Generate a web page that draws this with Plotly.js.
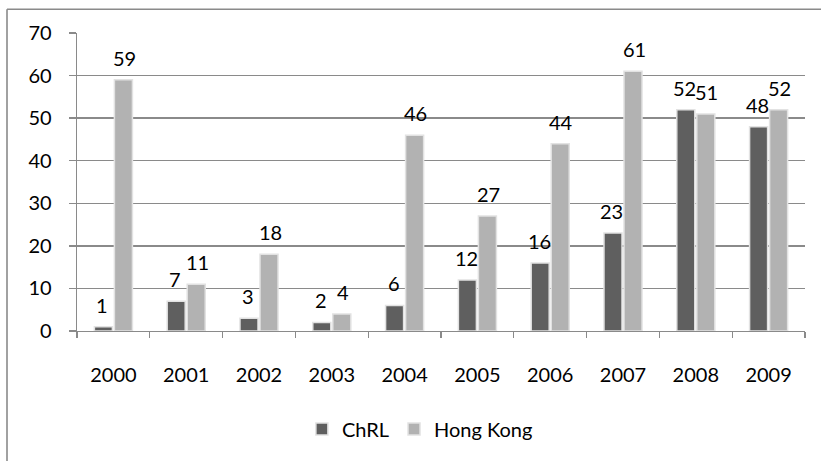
<!DOCTYPE html>
<html>
<head>
<meta charset="utf-8">
<script src="https://cdn.plot.ly/plotly-3.0.1.min.js"></script>
<style>
  html, body { margin: 0; padding: 0; background: #fff; }
  #chart { width: 821px; height: 461px; }
</style>
</head>
<body>
<div id="chart"></div>
<script>
const years = ['2000','2001','2002','2003','2004','2005','2006','2007','2008','2009'];
const chrl = [1, 7, 3, 2, 6, 12, 16, 23, 52, 48];
const hongKong = [59, 11, 18, 4, 46, 27, 44, 61, 51, 52];
const chrlLabels = ['1','7','3','2','6','12','16','23','52','48'];
const hkLabels = ['59','11','18','4','46','27','44','61','51','52'];

const W = 821, H = 461;
const margin = {l: 77, r: 16, t: 33, b: 127};
const bargap = 0.45;
const plotW = W - margin.l - margin.r;
const catW = plotW / years.length;
const slot = catW * (1 - bargap) / 2;
const font = 'Lato, "Open Sans", "DejaVu Sans", sans-serif';
const fs = 20;

const traces = [
  {type: 'bar', name: 'ChRL', x: years, y: chrl,
   marker: {color: '#5f5f5f', line: {color: '#e2e2e2', width: 1.5}}, hoverinfo: 'none'},
  {type: 'bar', name: 'Hong Kong', x: years, y: hongKong,
   marker: {color: '#b2b2b2', line: {color: '#e2e2e2', width: 1.5}}, hoverinfo: 'none'}
];

// category index positions for annotations (numeric-looking category names)
const annotations = [];
years.forEach((yr, i) => {
  annotations.push({x: i, y: chrl[i], text: chrlLabels[i], showarrow: false,
    xshift: -slot / 2 - 1, yshift: 22, yanchor: 'middle', font: {family: font, size: fs, color: '#000'}});
  annotations.push({x: i, y: hongKong[i], text: hkLabels[i], showarrow: false,
    xshift: slot / 2 + 1, yshift: 22, yanchor: 'middle', font: {family: font, size: fs, color: '#000'}});
});

const plotH = H - margin.t - margin.b;
const px2x = p => (p - margin.l) / plotW;
const px2y = p => (H - margin.b - p) / plotH;

const layout = {
  width: W, height: H,
  margin: margin,
  paper_bgcolor: '#fff', plot_bgcolor: '#fff',
  font: {family: font, size: fs, color: '#000'},
  showlegend: true,
  barmode: 'group', bargap: bargap, bargroupgap: 0.1,
  xaxis: {type: 'category', range: [-0.5, years.length - 0.5], showline: true, linecolor: '#8a8a8a', linewidth: 1.3,
    ticks: 'outside', tickson: 'boundaries', ticklen: 6, tickcolor: '#8a8a8a', tickwidth: 1.3,
    tickangle: 0, ticklabelstandoff: 26, showgrid: false, zeroline: false, fixedrange: true},
  yaxis: {range: [0, 70], dtick: 10, tick0: 0, showline: true, linecolor: '#8a8a8a', linewidth: 1.3,
    ticks: 'outside', ticklen: 7, tickcolor: '#8a8a8a', tickwidth: 1.3, ticklabelstandoff: 13,
    showgrid: true, gridcolor: '#8a8a8a', gridwidth: 1.3, zeroline: false, fixedrange: true},
  legend: {orientation: 'h', x: 0.471, xanchor: 'center', y: px2y(433), yanchor: 'middle',
    font: {family: font, size: fs}, itemclick: false},
  annotations: annotations,
  shapes: [
    {type: 'line', xref: 'paper', yref: 'paper', x0: px2x(7), x1: px2x(7), y0: px2y(9), y1: px2y(470),
     line: {color: '#8a8a8a', width: 1.6}},
    {type: 'line', xref: 'paper', yref: 'paper', x0: px2x(7), x1: px2x(830), y0: px2y(9), y1: px2y(9),
     line: {color: '#8a8a8a', width: 1.6}}
  ]
};

Plotly.newPlot('chart', traces, layout, {displayModeBar: false, staticPlot: true});
</script>
</body>
</html>
